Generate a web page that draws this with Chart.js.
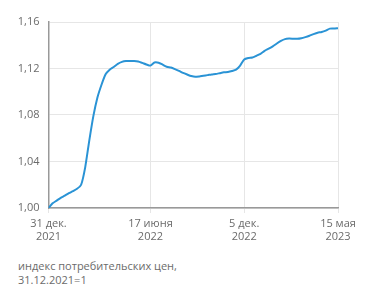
<!DOCTYPE html>
<html>
<head>
<meta charset="utf-8">
<script src="https://cdn.jsdelivr.net/npm/chart.js@4"></script>
<style>
  body { margin: 0; background: #fff; }
  #wrap { position: absolute; left: 0; top: 0; width: 371px; height: 245px; }
  #note {
    position: absolute; left: 18px; top: 259px;
    font: 11px "Open Sans", sans-serif; line-height: 13.5px; color: #6b6b6b;
  }
</style>
</head>
<body>
<div id="wrap"><canvas id="cpiChart"></canvas></div>
<div id="note">индекс потребительских цен,<br>31.12.2021=1</div>
<script>
// weekly CPI index, 31.12.2021 = 1
var cpiValues = [
  1.000, 1.004, 1.0064, 1.0088, 1.0106, 1.0127, 1.0145, 1.0165, 1.020, 1.035,
  1.058, 1.079, 1.095, 1.106, 1.115, 1.119, 1.1213, 1.124, 1.1257, 1.1265,
  1.1265, 1.1265, 1.126, 1.1248, 1.1235, 1.1225, 1.1252, 1.125, 1.1233, 1.1215,
  1.1208, 1.1195, 1.118, 1.1162, 1.1148, 1.1135, 1.1128, 1.1132, 1.1138, 1.1143,
  1.1149, 1.1153, 1.116, 1.1167, 1.117, 1.1178, 1.119, 1.1225, 1.1278, 1.1291,
  1.1295, 1.131, 1.1326, 1.1352, 1.137, 1.139, 1.1415, 1.1437, 1.1453, 1.1457,
  1.1456, 1.1455, 1.146, 1.147, 1.1482, 1.1496, 1.1508, 1.1514, 1.1526, 1.1543,
  1.1544, 1.1547
];
var tickWeeks = [0, 25, 48, 71];
var tickLabels = [["31 дек.", "2021"], ["17 июня", "2022"], ["5 дек.", "2022"], ["15 мая", "2023"]];
var yTicks = [1.00, 1.04, 1.08, 1.12, 1.16];

var points = cpiValues.map(function (v, i) { return { x: i, y: v }; });

Chart.defaults.font.family = "'Open Sans', sans-serif";
Chart.defaults.font.size = 11;
Chart.defaults.color = "#6b6b6b";

new Chart(document.getElementById("cpiChart"), {
  type: "line",
  data: {
    datasets: [{
      data: points,
      borderColor: "#2a93d5",
      borderWidth: 2,
      pointRadius: 0,
      tension: 0.2,
      fill: false
    }]
  },
  options: {
    responsive: true,
    maintainAspectRatio: false,
    animation: false,
    layout: { padding: { top: 22, right: 33, left: 0, bottom: 0 } },
    plugins: { legend: { display: false }, tooltip: { enabled: false } },
    scales: {
      x: {
        type: "linear",
        min: 0,
        max: 71,
        afterBuildTicks: function (axis) {
          axis.ticks = tickWeeks.map(function (w) { return { value: w }; });
        },
        afterFit: function (axis) { axis.height = 37; },
        ticks: {
          autoSkip: false,
          maxRotation: 0,
          padding: 4,
          callback: function (value) {
            var i = tickWeeks.indexOf(value);
            return i >= 0 ? tickLabels[i] : "";
          }
        },
        grid: { color: "#e6e6e6", tickLength: 5, drawOnChartArea: true },
        border: { color: "#999", width: 1.5 }
      },
      y: {
        min: 1.0,
        max: 1.16,
        afterBuildTicks: function (axis) {
          axis.ticks = yTicks.map(function (v) { return { value: v }; });
        },
        afterFit: function (axis) { axis.width = 48.5; },
        ticks: {
          padding: 9,
          callback: function (value) { return value.toFixed(2).replace(".", ","); }
        },
        grid: { color: "#e6e6e6", drawTicks: false },
        border: { color: "#999", width: 1.5 }
      }
    }
  }
});
</script>
</body>
</html>
